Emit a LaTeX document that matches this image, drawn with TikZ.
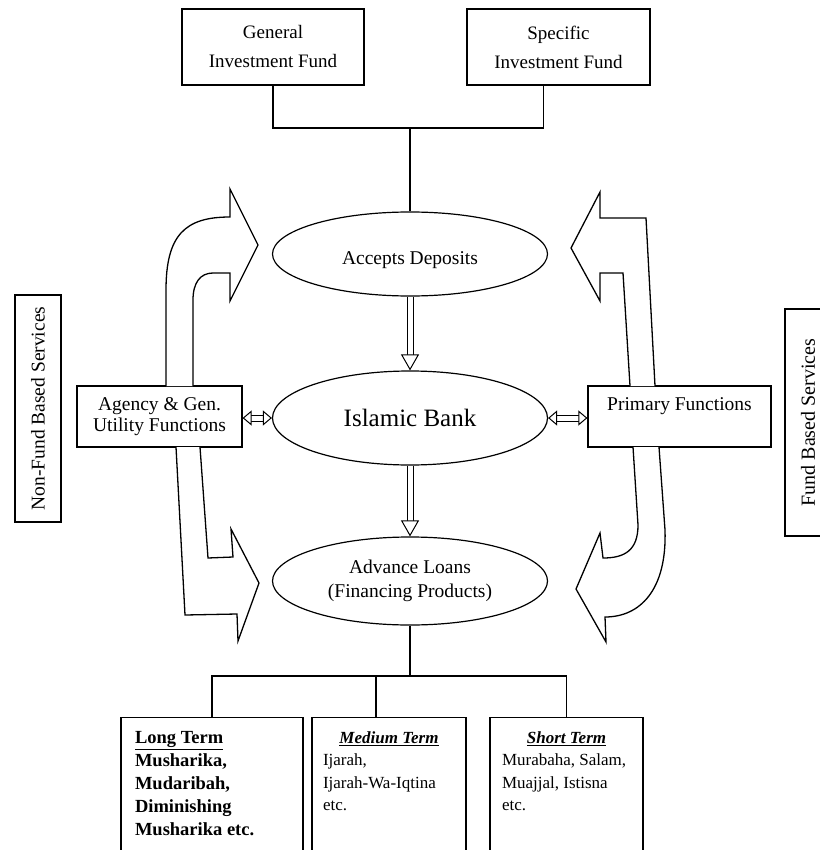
\documentclass[tikz,border=0pt]{standalone}
\usepackage{fontspec}
\setmainfont{Liberation Serif}
\usetikzlibrary{shapes.geometric,arrows.meta}

\begin{document}
\begin{tikzpicture}[x=1pt, y=-1pt,
  box/.style={draw, line width=1.2pt, align=center, inner sep=0pt, font=\fontsize{19.5}{21}\selectfont},
  oval/.style={draw, ellipse, line width=1.2pt, minimum width=275pt, inner sep=0pt, align=center, font=\fontsize{19.5}{24}\selectfont},
  termbox/.style={draw, line width=1.2pt, anchor=north, align=flush left, inner ysep=14pt, text depth=130pt, font=\fontsize{17}{22.5}\selectfont},
  block/.style={draw, fill=white, line width=1.3pt, line join=miter},
  hollow/.style={double, double distance=5pt, line width=1pt, shorten >=14pt, shorten <=0.7pt},
  hhead/.style={white, line width=1pt, shorten <=2pt, -{Triangle[color=black, fill=white, length=16pt, width=18pt, line width=1pt]}},
  dhollow/.style={double, double distance=5pt, line width=1pt, shorten >=8pt, shorten <=8pt},
  dhead/.style={white, line width=1pt, {Triangle[color=black, fill=white, length=9pt, width=15pt, line width=1pt]}-{Triangle[color=black, fill=white, length=9pt, width=15pt, line width=1pt]}},
  line/.style={line width=1.2pt}]

\useasboundingbox (0,0) rectangle (819,850);

% Funds on top
\node[box, font=\fontsize{19}{29}\selectfont, minimum width=182pt, minimum height=76pt] (gen) at (273,47) {General\\Investment Fund};
\node[box, font=\fontsize{19}{29}\selectfont, minimum width=183pt, minimum height=76pt] (spec) at (558.5,47) {Specific\\Investment Fund};

% Bank in the middle
\node[oval, minimum height=84pt, text height=22pt, text depth=2pt] (acc) at (410,254) {Accepts Deposits};
\node[oval, minimum height=94pt, font=\fontsize{25}{28}\selectfont] (bank) at (410,418) {Islamic Bank};
\node[oval, minimum height=88pt] (loans) at (410,581) {Advance Loans\\(Financing Products)};

% Functions on both sides
\node[box, minimum width=165pt, minimum height=61pt] (agency) at (159.5,416.5) {Agency \& Gen.\\Utility Functions};
\node[box, minimum width=183pt, minimum height=61pt, text height=14pt, text depth=27pt] (prim) at (679.5,416.5) {Primary Functions};

\node[box, rotate=90, minimum width=227pt, minimum height=46pt] (nonfund) at (38,408.5) {Non-Fund Based Services};
\node[box, rotate=90, minimum width=227pt, minimum height=46pt, font=\fontsize{20}{22}\selectfont] (fund) at (808,422.5) {Fund Based Services};

% Financing terms
\node[termbox, text width=154pt, inner xsep=14pt, font=\fontsize{18.5}{23}\selectfont\bfseries] (long) at (212,717)
  {\underline{Long Term}\\Musharika,\\Mudaribah,\\Diminishing\\Musharika etc.};
\node[termbox, text width=132pt, inner xsep=11pt] (medium) at (389,717)
  {\hspace*{\fill}\underline{\textbf{\textit{Medium Term}}}\hspace*{\fill}\null\\Ijarah,\\Ijarah-Wa-Iqtina\\etc.};
\node[termbox, text width=129pt, inner xsep=12pt] (short) at (566.5,717)
  {\hspace*{\fill}\underline{\textbf{\textit{Short Term}}}\hspace*{\fill}\null\\Murabaha, Salam,\\Muajjal, Istisna\\etc.};

% Tree lines
\coordinate (tj) at (410,128);
\coordinate (bj) at (410,676);
\draw[line] (gen.south) |- (tj) -| ([xshift=-15pt]spec.south);
\draw[line] (tj) -- (acc.north);
\draw[line] (loans.south) -- (bj);
\draw[line] (long.north) |- (bj) -| (short.north);
\draw[line] ([xshift=-13pt]medium.north) -- ([xshift=-13pt]medium.north |- bj);

% Hollow arrows
\draw[hollow] (acc.south) -- (bank.north);
\draw[hhead] (acc.south) -- (bank.north);
\draw[hollow] (bank.south) -- (loans.north);
\draw[hhead] (bank.south) -- (loans.north);

\draw[dhollow] (agency.east |- bank.west) -- (bank.west);
\draw[dhead] (agency.east |- bank.west) -- (bank.west);
\draw[dhollow] (bank.east) -- (prim.west |- bank.east);
\draw[dhead] (bank.east) -- (prim.west |- bank.east);

% Big bent arrows
\draw[block] (166,386) -- (166,290) .. controls (166,235) and (185,217) .. (230,217)
  -- (230,189) -- (258,245) -- (230,301) -- (230,273) -- (213,273)
  .. controls (200,273) and (193,283) .. (193,300) -- (193,386);
\draw[block] (655,386) -- (646,218) -- (600,218) -- (600,192) -- (571,248)
  -- (600,301) -- (600,273) -- (623,273) -- (630,386);
\draw[block] (176,447) -- (185,615) -- (237,614) -- (238,641) -- (259,583)
  -- (231,529) -- (233,557) -- (208,558) -- (200,447);
\draw[block] (659,447) -- (665,530) .. controls (667,590) and (640,617) .. (605,617)
  -- (606,642) -- (576,589) -- (600,533) -- (603,558)
  .. controls (625,558) and (638,550) .. (638,525) -- (633,447);

\end{tikzpicture}
\end{document}
